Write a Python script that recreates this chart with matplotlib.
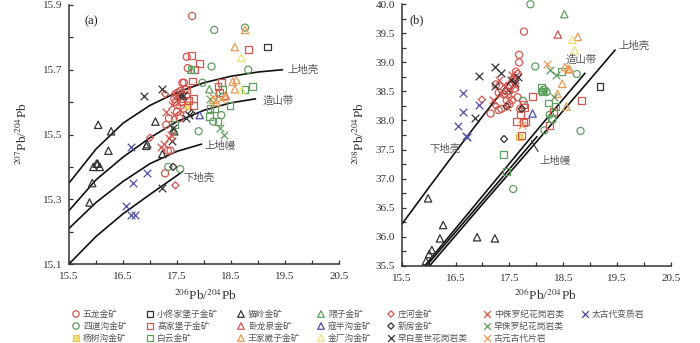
import matplotlib
matplotlib.use("Agg")
import matplotlib.pyplot as plt
from matplotlib.ticker import FixedLocator, FormatStrFormatter

plt.rcParams['font.family'] = ['Liberation Serif', 'Noto Sans CJK SC', 'DejaVu Sans']
plt.rcParams['mathtext.fontset'] = 'stix'

# ---------------- reference curves (Zartman & Doe) ----------------
uc_a_x = [15.5, 16.0, 16.5, 17.0, 17.5, 18.0, 18.5, 19.0, 19.45]
uc_a_y = [15.35, 15.455, 15.535, 15.59, 15.63, 15.66, 15.68, 15.693, 15.70]
or_a_x = [15.5, 16.0, 16.5, 17.0, 17.5, 18.0, 18.5, 18.95]
or_a_y = [15.265, 15.36, 15.43, 15.49, 15.54, 15.575, 15.598, 15.61]
ma_a_x = [15.5, 16.0, 16.5, 17.0, 17.5, 17.95]
ma_a_y = [15.21, 15.29, 15.355, 15.41, 15.448, 15.47]
lc_a_x = [15.5, 16.0, 16.5, 17.0, 17.6]
lc_a_y = [15.10, 15.185, 15.255, 15.315, 15.385]

uc_b_x = [16.02, 17.0, 18.0, 19.0, 19.46]
uc_b_y = [35.5, 36.56, 37.63, 38.71, 39.21]
or_b_x = [15.93, 17.0, 18.0, 18.90]
or_b_y = [35.5, 36.70, 37.82, 38.81]
ma_b_x = [15.96, 17.0, 18.01]
ma_b_y = [35.5, 36.62, 37.72]
lc_b_x = [15.5, 16.0, 16.5, 17.0, 17.55]
lc_b_y = [36.21, 36.84, 37.46, 38.07, 38.72]

curve_labels = ["上地壳", "造山带", "上地幔", "下地壳"]

# ---------------- sample series ----------------
wulong_a_x = [17.78, 17.68, 17.70, 17.60, 17.63, 17.52, 17.55, 17.58, 17.60, 17.65, 17.48, 17.45,
              17.50, 17.62, 17.70, 17.55, 17.35, 17.30, 17.33, 17.38, 17.28, 17.57, 17.47, 17.67]
wulong_a_y = [15.866, 15.74, 15.705, 15.66, 15.66, 15.63, 15.62, 15.60, 15.61, 15.64, 15.60, 15.61,
              15.57, 15.58, 15.59, 15.55, 15.55, 15.53, 15.45, 15.45, 15.38, 15.635, 15.625, 15.62]
wulong_b_x = [17.77, 17.68, 17.68, 17.62, 17.65, 17.58, 17.55, 17.50, 17.60, 17.45, 17.40, 17.30,
              17.55, 17.50, 17.35, 17.30, 17.15, 17.70, 17.65, 17.25, 17.60, 17.45]
wulong_b_y = [39.53, 39.13, 39.00, 38.84, 38.80, 38.72, 38.65, 38.60, 38.55, 38.50, 38.45, 38.48,
              38.35, 38.28, 38.20, 38.18, 38.12, 38.20, 38.40, 38.62, 38.70, 38.35]

sidaogou_a_x = [18.19, 18.76, 18.14, 18.82, 17.97, 18.32, 17.90, 18.17, 17.56, 17.34]
sidaogou_a_y = [15.823, 15.83, 15.71, 15.70, 15.66, 15.56, 15.51, 15.54, 15.393, 15.40]
sidaogou_b_x = [17.89, 17.98, 18.75, 18.15, 18.19, 18.25, 18.15, 18.82, 17.57, 17.75, 18.30]
sidaogou_b_y = [40.0, 38.93, 38.80, 38.53, 38.49, 38.10, 37.83, 37.82, 36.82, 38.34, 38.02]

yangshugou_a_x = [17.70]
yangshugou_a_y = [15.588]
yangshugou_b_x = [17.67]
yangshugou_b_y = [37.72]

xiaotong_a_x = [19.17]
xiaotong_a_y = [15.77]
xiaotong_b_x = [19.18]
xiaotong_b_y = [38.59]

gaojia_a_x = [17.77, 17.82, 17.92, 17.79, 17.68, 17.80, 17.80, 18.83, 18.26, 18.33, 18.28, 17.72]
gaojia_a_y = [15.745, 15.70, 15.72, 15.665, 15.64, 15.61, 15.59, 15.763, 15.648, 15.66, 15.63, 15.605]
gaojia_b_x = [17.93, 17.76, 17.63, 17.76, 17.80, 17.72, 18.25, 18.32, 18.84, 17.78, 17.70]
gaojia_b_y = [38.41, 38.28, 37.98, 37.96, 37.98, 37.74, 37.92, 38.15, 38.35, 38.22, 38.10]

baiyun_a_x = [17.76, 18.11, 18.10, 18.34, 18.48, 18.76, 18.90, 18.26, 18.20, 17.45]
baiyun_a_y = [15.70, 15.58, 15.555, 15.64, 15.59, 15.638, 15.648, 15.54, 15.58, 15.53]
baiyun_b_x = [18.09, 18.12, 18.22, 18.35, 18.28, 18.47, 17.39, 17.45]
baiyun_b_y = [38.57, 38.50, 38.30, 38.24, 38.04, 38.85, 37.41, 37.12]

maoling_a_x = [16.04, 16.28, 16.23, 17.10, 16.93, 16.95, 16.01, 16.03, 15.95, 16.07, 15.93, 15.88, 17.23, 17.45]
maoling_a_y = [15.53, 15.51, 15.45, 15.54, 15.465, 15.47, 15.41, 15.41, 15.40, 15.40, 15.35, 15.29, 15.44, 15.51]
maoling_b_x = [15.99, 16.27, 16.21, 16.90, 17.23, 16.06, 16.01, 15.95]
maoling_b_y = [36.66, 36.20, 35.97, 35.99, 35.97, 35.77, 35.70, 35.58]

wolong_a_x = [18.40]
wolong_a_y = [15.62]
wolong_b_x = [18.40]
wolong_b_y = [39.48]

wangjia_a_x = [18.57, 18.76, 18.60, 18.53, 18.57, 18.39, 18.17, 18.23]
wangjia_a_y = [15.77, 15.823, 15.668, 15.663, 15.64, 15.617, 15.607, 15.60]
wangjia_b_x = [18.77, 18.53, 18.59, 18.62, 18.48, 18.39, 18.56]
wangjia_b_y = [39.44, 38.92, 38.89, 38.88, 38.63, 38.46, 38.24]

weizi_a_x = [18.10, 17.43, 17.77]
weizi_a_y = [15.64, 15.515, 15.70]
weizi_b_x = [18.52, 18.10]
weizi_b_y = [39.83, 38.52]

kouban_a_x = [17.92]
kouban_a_y = [15.56]
kouban_b_x = [17.93]
kouban_b_y = [38.12]

jinchang_a_x = [18.69, 18.70]
jinchang_a_y = [15.737, 15.637]
jinchang_b_x = [18.67, 18.71]
jinchang_b_y = [39.39, 39.21]

zhuanghe_a_x = [17.47, 17.00, 17.28]
zhuanghe_a_y = [15.343, 15.49, 15.625]
zhuanghe_b_x = [16.99, 17.50, 17.25]
zhuanghe_b_y = [38.36, 38.40, 38.25]

xinfang_a_x = [17.43, 17.77]
xinfang_a_y = [15.40, 15.565]
xinfang_b_x = [17.40, 17.73, 17.45]
xinfang_b_y = [37.68, 38.20, 38.24]

zaobaie_a_x = [16.88, 17.22, 17.55, 17.62, 17.66, 17.72, 17.23, 17.40, 17.42]
zaobaie_a_y = [15.62, 15.64, 15.62, 15.62, 15.55, 15.56, 15.335, 15.48, 15.52]
zaobaie_b_x = [16.94, 16.87, 17.23, 17.35, 17.24, 17.53, 17.66, 17.47, 17.60]
zaobaie_b_y = [38.77, 38.04, 38.92, 38.82, 38.59, 38.70, 38.75, 38.52, 38.65]

zhongjura_a_x = [17.30, 17.40, 17.45, 17.25, 17.20, 17.35, 17.38, 17.52, 17.55, 17.48]
zhongjura_a_y = [15.57, 15.59, 15.56, 15.47, 15.46, 15.49, 15.50, 15.60, 15.575, 15.62]
zhongjura_b_x = [17.20, 17.39, 17.45, 17.35, 17.50, 17.30, 17.55, 17.60]
zhongjura_b_y = [38.35, 38.61, 38.24, 38.45, 38.55, 38.70, 38.78, 38.60]

zaojura_a_x = [18.11, 18.29, 18.37, 18.26]
zaojura_a_y = [15.61, 15.52, 15.50, 15.62]
zaojura_b_x = [18.25, 18.36, 18.33, 18.15]
zaojura_b_y = [38.87, 38.78, 38.41, 38.50]

guyuan_a_x = [18.17, 18.32]
guyuan_a_y = [15.617, 15.61]
guyuan_b_x = [18.20, 17.74]
guyuan_b_y = [38.98, 37.92]

taigu_a_x = [16.65, 16.95, 16.69, 16.55, 16.65, 16.72]
taigu_a_y = [15.46, 15.38, 15.35, 15.28, 15.25, 15.25]
taigu_b_x = [16.64, 16.64, 16.55, 16.70, 16.71, 16.94]
taigu_b_y = [38.48, 38.15, 37.90, 37.73, 37.71, 38.27]

# ---------------- styles ----------------
RED = '#d4574f'
GRN = '#5f9f5f'
BLK = '#333333'
BLU = '#4f4fa6'
ORG = '#e89a55'
YEL = '#ece07a'

series = [
    ("五龙金矿", 'o', RED, wulong_a_x, wulong_a_y, wulong_b_x, wulong_b_y),
    ("四道沟金矿", 'o', GRN, sidaogou_a_x, sidaogou_a_y, sidaogou_b_x, sidaogou_b_y),
    ("杨树沟金矿", 's', YEL, yangshugou_a_x, yangshugou_a_y, yangshugou_b_x, yangshugou_b_y),
    ("小佟家堡子金矿", 's', BLK, xiaotong_a_x, xiaotong_a_y, xiaotong_b_x, xiaotong_b_y),
    ("高家堡子金矿", 's', RED, gaojia_a_x, gaojia_a_y, gaojia_b_x, gaojia_b_y),
    ("白云金矿", 's', GRN, baiyun_a_x, baiyun_a_y, baiyun_b_x, baiyun_b_y),
    ("猫岭金矿", '^', BLK, maoling_a_x, maoling_a_y, maoling_b_x, maoling_b_y),
    ("卧龙泉金矿", '^', RED, wolong_a_x, wolong_a_y, wolong_b_x, wolong_b_y),
    ("王家崴子金矿", '^', ORG, wangjia_a_x, wangjia_a_y, wangjia_b_x, wangjia_b_y),
    ("隈子金矿", '^', GRN, weizi_a_x, weizi_a_y, weizi_b_x, weizi_b_y),
    ("寇半沟金矿", '^', BLU, kouban_a_x, kouban_a_y, kouban_b_x, kouban_b_y),
    ("金厂沟金矿", '^', YEL, jinchang_a_x, jinchang_a_y, jinchang_b_x, jinchang_b_y),
    ("庄河金矿", 'D', RED, zhuanghe_a_x, zhuanghe_a_y, zhuanghe_b_x, zhuanghe_b_y),
    ("新房金矿", 'D', BLK, xinfang_a_x, xinfang_a_y, xinfang_b_x, xinfang_b_y),
    ("早白垩世花岗岩类", 'x', BLK, zaobaie_a_x, zaobaie_a_y, zaobaie_b_x, zaobaie_b_y),
    ("中侏罗纪花岗岩类", 'x', RED, zhongjura_a_x, zhongjura_a_y, zhongjura_b_x, zhongjura_b_y),
    ("早侏罗纪花岗岩类", 'x', GRN, zaojura_a_x, zaojura_a_y, zaojura_b_x, zaojura_b_y),
    ("古元古代片岩", 'x', ORG, guyuan_a_x, guyuan_a_y, guyuan_b_x, guyuan_b_y),
    ("太古代变质岩", 'x', BLU, taigu_a_x, taigu_a_y, taigu_b_x, taigu_b_y),
]

SIZES = {'o': 26, 's': 24, '^': 28, 'D': 13, 'x': 30}


def draw_marker(ax, x, y, m, c, scale=1.0, **kw):
    s = SIZES[m] * scale
    if m == 'x':
        ax.scatter(x, y, marker='x', s=s, c=c, linewidths=0.9, **kw)
    elif c == YEL and m == 's':
        ax.scatter(x, y, marker=m, s=s, facecolors=YEL, edgecolors='#e6c94f', linewidths=0.9, **kw)
    else:
        ax.scatter(x, y, marker=m, s=s, facecolors='none', edgecolors=c, linewidths=0.9, **kw)


fig = plt.figure(figsize=(7.0, 3.43), dpi=100)
axa = fig.add_axes([69 / 700, 1 - 264 / 343, 270 / 700, 259 / 343])
axb = fig.add_axes([401.7 / 700, 1 - 265.7 / 343, 269.3 / 700, 261.4 / 343])

TXT = '#555555'
CJK = ['Noto Sans CJK SC', 'DejaVu Sans']

for ax in (axa, axb):
    for s in ('top', 'right'):
        ax.spines[s].set_visible(False)
    for s in ('left', 'bottom'):
        ax.spines[s].set_linewidth(1.1)
        ax.spines[s].set_color('#333333')
    ax.set_xlim(15.5, 20.5)
    ax.xaxis.set_major_locator(FixedLocator([15.5, 16.5, 17.5, 18.5, 19.5, 20.5]))
    ax.xaxis.set_minor_locator(FixedLocator([16.0, 17.0, 18.0, 19.0, 20.0]))
    ax.xaxis.set_major_formatter(FormatStrFormatter('%.1f'))
    ax.yaxis.set_major_formatter(FormatStrFormatter('%.1f'))
    ax.tick_params(which='both', direction='in', length=3, width=0.9, color='#333333',
                   labelsize=8, labelcolor='#333333')
    ax.tick_params(axis='x', pad=6)
    ax.tick_params(axis='y', pad=5)

axa.set_ylim(15.1, 15.9)
axa.yaxis.set_major_locator(FixedLocator([15.1, 15.3, 15.5, 15.7, 15.9]))
axa.yaxis.set_minor_locator(FixedLocator([15.2, 15.4, 15.6, 15.8]))
axb.set_ylim(35.5, 40.0)
axb.yaxis.set_major_locator(FixedLocator([35.5, 36.0, 36.5, 37.0, 37.5, 38.0, 38.5, 39.0, 39.5, 40.0]))
axb.yaxis.set_minor_locator(FixedLocator([35.75, 36.25, 36.75, 37.25, 37.75, 38.25, 38.75, 39.25, 39.75]))

# curves
LW = 1.2
for cx, cy in ((uc_a_x, uc_a_y), (or_a_x, or_a_y), (ma_a_x, ma_a_y), (lc_a_x, lc_a_y)):
    axa.plot(cx, cy, color='#111111', lw=LW, zorder=2)
for cx, cy in ((uc_b_x, uc_b_y), (or_b_x, or_b_y), (ma_b_x, ma_b_y), (lc_b_x, lc_b_y)):
    axb.plot(cx, cy, color='#111111', lw=LW, zorder=2)

# points
for name, m, c, ax_x, ax_y, bx, by in series:
    draw_marker(axa, ax_x, ax_y, m, c, zorder=3, clip_on=False)
    draw_marker(axb, bx, by, m, c, zorder=3, clip_on=False)

# annotations panel a
axa.text(15.78, 15.85, "(a)", fontsize=9, color='#222222', ha='left', va='center')
axa.text(19.55, 15.70, curve_labels[0], fontsize=7.5, family=CJK, color=TXT, ha='left', va='center')
axa.text(19.08, 15.605, curve_labels[1], fontsize=7.5, family=CJK, color=TXT, ha='left', va='center')
axa.text(18.0, 15.465, curve_labels[2], fontsize=7.5, family=CJK, color=TXT, ha='left', va='center')
axa.text(17.62, 15.365, curve_labels[3], fontsize=7.5, family=CJK, color=TXT, ha='left', va='center')

# annotations panel b
axb.text(15.65, 39.73, "(b)", fontsize=9, color='#222222', ha='left', va='center')
axb.text(19.52, 39.28, curve_labels[0], fontsize=7.5, family=CJK, color=TXT, ha='left', va='center')
axb.text(18.55, 39.04, curve_labels[1], fontsize=7.5, family=CJK, color=TXT, ha='left', va='center')
axb.plot([17.91, 18.03], [37.65, 37.47], color='#333333', lw=0.8)
axb.text(18.05, 37.30, curve_labels[2], fontsize=7.5, family=CJK, color=TXT, ha='left', va='center')
axb.text(16.02, 37.52, curve_labels[3], fontsize=7.5, family=CJK, color=TXT, ha='left', va='center')

# axis labels
fig.text(22 / 700, 1 - 134 / 343, "$^{207}$Pb/$^{204}$Pb", rotation=90, fontsize=9.5,
         color='#333333', ha='center', va='center')
fig.text(359 / 700, 1 - 134 / 343, "$^{208}$Pb/$^{204}$Pb", rotation=90, fontsize=9.5,
         color='#333333', ha='center', va='center')
fig.text(205 / 700, 1 - 295 / 343, "$^{206}$Pb/$^{204}$Pb", fontsize=9.5,
         color='#333333', ha='center', va='center')
fig.text(545 / 700, 1 - 295 / 343, "$^{206}$Pb/$^{204}$Pb", fontsize=9.5,
         color='#333333', ha='center', va='center')

# legend (manual grid: 7 columns x 3 rows, filled column-wise)
lax = fig.add_axes([0, 0, 1, 1])
lax.set_xlim(0, 700)
lax.set_ylim(343, 0)
lax.axis('off')
col_x = [76, 150, 241, 321, 391, 487, 585]
row_y = [314, 326, 338]
for i, (name, m, c, *_rest) in enumerate(series):
    col, row = divmod(i, 3)
    if i == 18:
        col, row = 6, 0
    px, py = col_x[col], row_y[row]
    draw_marker(lax, [px], [py], m, c, scale=0.8)
    lax.text(px + 7, py, name, fontsize=6.3, family=CJK, color=TXT, ha='left', va='center')

fig.savefig("out.png", dpi=100)
